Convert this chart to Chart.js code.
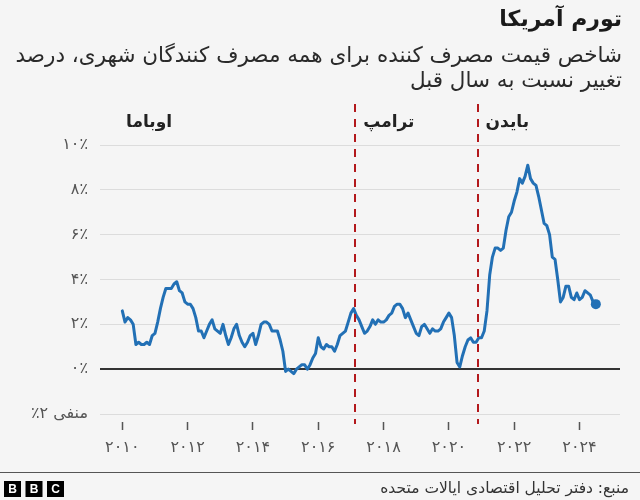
<!DOCTYPE html>
<html>
<head>
<meta charset="utf-8">
<script src="https://cdn.jsdelivr.net/npm/chart.js@4.4.1/dist/chart.umd.min.js"></script>
<style>
  html, body { margin: 0; padding: 0; background: #f5f5f5; }
  #wrap { width: 640px; height: 500px; }
</style>
</head>
<body>
<div id="wrap"><canvas id="chart" dir="rtl" width="640" height="500"></canvas></div>
<script>
// تورم سالانه (درصد) - هر آرایه یک سال، ماهانه
const cpi2010 = [2.6, 2.1, 2.3, 2.2, 2.0, 1.1, 1.2, 1.1, 1.1, 1.2, 1.1, 1.5];
const cpi2011 = [1.6, 2.1, 2.7, 3.2, 3.6, 3.6, 3.6, 3.8, 3.9, 3.5, 3.4, 3.0];
const cpi2012 = [2.9, 2.9, 2.7, 2.3, 1.7, 1.7, 1.4, 1.7, 2.0, 2.2, 1.8, 1.7];
const cpi2013 = [1.6, 2.0, 1.5, 1.1, 1.4, 1.8, 2.0, 1.5, 1.2, 1.0, 1.2, 1.5];
const cpi2014 = [1.6, 1.1, 1.5, 2.0, 2.1, 2.1, 2.0, 1.7, 1.7, 1.7, 1.3, 0.8];
const cpi2015 = [-0.1, 0.0, -0.1, -0.2, 0.0, 0.1, 0.2, 0.2, 0.0, 0.2, 0.5, 0.7];
const cpi2016 = [1.4, 1.0, 0.9, 1.1, 1.0, 1.0, 0.8, 1.1, 1.5, 1.6, 1.7, 2.1];
const cpi2017 = [2.5, 2.7, 2.4, 2.2, 1.9, 1.6, 1.7, 1.9, 2.2, 2.0, 2.2, 2.1];
const cpi2018 = [2.1, 2.2, 2.4, 2.5, 2.8, 2.9, 2.9, 2.7, 2.3, 2.5, 2.2, 1.9];
const cpi2019 = [1.6, 1.5, 1.9, 2.0, 1.8, 1.6, 1.8, 1.7, 1.7, 1.8, 2.1, 2.3];
const cpi2020 = [2.5, 2.3, 1.5, 0.3, 0.1, 0.6, 1.0, 1.3, 1.4, 1.2, 1.2, 1.4];
const cpi2021 = [1.4, 1.7, 2.6, 4.2, 5.0, 5.4, 5.4, 5.3, 5.4, 6.2, 6.8, 7.0];
const cpi2022 = [7.5, 7.9, 8.5, 8.3, 8.6, 9.1, 8.5, 8.3, 8.2, 7.7, 7.1, 6.5];
const cpi2023 = [6.4, 6.0, 5.0, 4.9, 4.0, 3.0, 3.2, 3.7, 3.7, 3.2, 3.1, 3.4];
const cpi2024 = [3.1, 3.2, 3.5, 3.4, 3.3, 3.0, 2.9];

const years = [2010, 2011, 2012, 2013, 2014, 2015, 2016, 2017, 2018, 2019, 2020, 2021, 2022, 2023, 2024];
const yearly = [cpi2010, cpi2011, cpi2012, cpi2013, cpi2014, cpi2015, cpi2016, cpi2017,
                cpi2018, cpi2019, cpi2020, cpi2021, cpi2022, cpi2023, cpi2024];

// محور ها
const xTickYears = [2010, 2012, 2014, 2016, 2018, 2020, 2022, 2024];
const xTickLabels = ['۲۰۱۰', '۲۰۱۲', '۲۰۱۴', '۲۰۱۶', '۲۰۱۸', '۲۰۲۰', '۲۰۲۲', '۲۰۲۴'];
const yTickValues = [-2, 0, 2, 4, 6, 8, 10];
const yTickLabels = ['منفی ۲٪', '۰٪', '۲٪', '۴٪', '۶٪', '۸٪', '۱۰٪'];

// رئیس جمهورها
const presidents = ['اوباما', 'ترامپ', 'بایدن'];
const termStarts = [2009.05, 2017.13, 2020.88];

const FA = '"DejaVu Sans", sans-serif';
const BLUE = '#2270b5';

// نقاط: هر ماه = سال + ماه/۱۲
const points = [];
yearly.forEach((arr, i) => {
  arr.forEach((v, m) => points.push({ x: years[i] + m / 12, y: v }));
});

const extras = {
  id: 'extras',
  beforeDraw(chart) {
    const ctx = chart.ctx;
    ctx.save();
    ctx.fillStyle = '#f5f5f5';
    ctx.fillRect(0, 0, chart.width, chart.height);
    ctx.restore();
  },
  afterDatasetsDraw(chart) {
    const { ctx, scales: { x } } = chart;
    ctx.save();
    // خط چین شروع دوره ها
    ctx.strokeStyle = '#b3191c';
    ctx.lineWidth = 2;
    ctx.setLineDash([8, 7]);
    termStarts.forEach(v => {
      if (v < x.min) return;
      const px = Math.round(x.getPixelForValue(v));
      ctx.beginPath();
      ctx.moveTo(px, 104);
      ctx.lineTo(px, 424);
      ctx.stroke();
    });
    ctx.setLineDash([]);
    // نام ها
    ctx.fillStyle = '#222';
    ctx.font = 'bold 17px ' + FA;
    ctx.textAlign = 'left';
    ctx.textBaseline = 'middle';
    presidents.forEach((name, i) => {
      const px = Math.max(x.getPixelForValue(termStarts[i]), 118);
      ctx.fillText(name, px + 8, 123);
    });
    ctx.restore();
  },
  afterDraw(chart) {
    const ctx = chart.ctx;
    ctx.save();
    ctx.textAlign = 'right';
    ctx.textBaseline = 'middle';
    ctx.fillStyle = '#1a1a1a';
    ctx.font = 'bold 22px ' + FA;
    ctx.fillText('تورم آمریکا', 622, 20);
    ctx.fillStyle = '#2a2a2a';
    ctx.font = '21.5px ' + FA;
    ctx.fillText('شاخص قیمت مصرف کننده برای همه مصرف کنندگان شهری، درصد', 622, 56);
    ctx.fillText('تغییر نسبت به سال قبل', 622, 81);

    // پانویس
    ctx.strokeStyle = '#555';
    ctx.lineWidth = 1;
    ctx.beginPath();
    ctx.moveTo(0, 472.5);
    ctx.lineTo(640, 472.5);
    ctx.stroke();

    ctx.font = '15.5px ' + FA;
    ctx.fillStyle = '#333';
    ctx.fillText('منبع: دفتر تحلیل اقتصادی ایالات متحده', 629, 489);

    ['B', 'B', 'C'].forEach((ch, i) => {
      const bx = 4 + i * 21.5;
      ctx.fillStyle = '#000';
      ctx.fillRect(bx, 481, 17, 16);
      ctx.fillStyle = '#fff';
      ctx.font = 'bold 12px "Liberation Sans", Arial, sans-serif';
      ctx.textAlign = 'center';
      ctx.fillText(ch, bx + 8.5, 489.5);
    });
    ctx.restore();
  }
};

new Chart(document.getElementById('chart'), {
  type: 'line',
  data: {
    datasets: [{
      data: points,
      borderColor: BLUE,
      backgroundColor: BLUE,
      borderWidth: 3,
      tension: 0,
      borderJoinStyle: 'round',
      borderCapStyle: 'round',
      pointRadius: ctx => ctx.dataIndex === points.length - 1 ? 5 : 0,
      pointBorderWidth: 0,
      fill: false
    }]
  },
  options: {
    responsive: false,
    animation: false,
    layout: { padding: { left: 0, right: 20, top: 145, bottom: 36 } },
    plugins: {
      legend: { display: false },
      tooltip: { enabled: false },
      title: { display: false }
    },
    scales: {
      x: {
        type: 'linear',
        min: 2009.317,
        max: 2025.24,
        afterFit: axis => { axis.height = 50; },
        afterBuildTicks: axis => { axis.ticks = xTickYears.map(v => ({ value: v })); },
        border: { display: false },
        grid: {
          drawOnChartArea: false,
          drawTicks: true,
          tickLength: 16,
          tickColor: '#555',
          tickWidth: 1.5,
          tickBorderDash: [0, 8, 8]
        },
        ticks: {
          padding: 8,
          color: '#555',
          font: { family: FA, size: 16 },
          maxRotation: 0,
          callback: v => xTickLabels[xTickYears.indexOf(v)]
        }
      },
      y: {
        min: -2,
        max: 10,
        afterFit: axis => { axis.width = 100; },
        afterBuildTicks: axis => { axis.ticks = yTickValues.map(v => ({ value: v })); },
        border: { display: false },
        grid: {
          drawTicks: false,
          color: c => c.tick && c.tick.value === 0 ? '#333' : '#dcdcdc',
          lineWidth: c => c.tick && c.tick.value === 0 ? 2 : 1
        },
        ticks: {
          padding: 12,
          color: '#555',
          font: { family: FA, size: 16 },
          callback: v => yTickLabels[yTickValues.indexOf(v)]
        }
      }
    }
  },
  plugins: [extras]
});
</script>
</body>
</html>
